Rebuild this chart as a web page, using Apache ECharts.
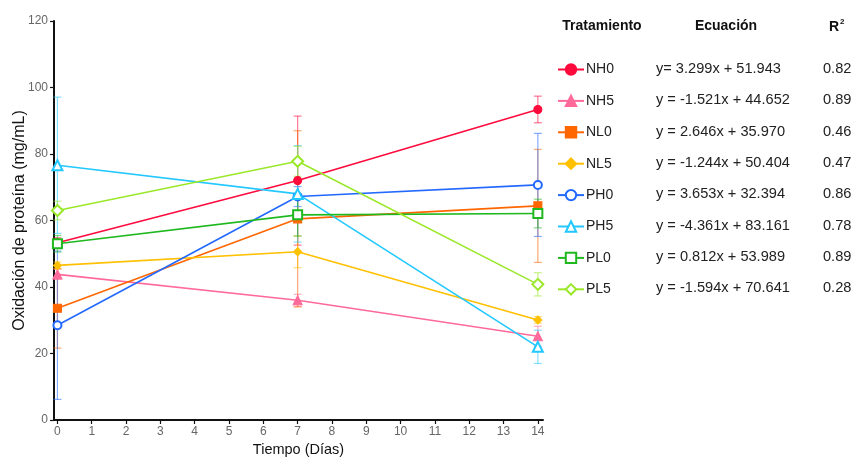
<!DOCTYPE html>
<html>
<head>
<meta charset="utf-8">
<script src="https://cdn.jsdelivr.net/npm/echarts@6/dist/echarts.min.js"></script>
<style>
  html, body { margin: 0; padding: 0; background: #fff; }
  #chart { width: 854px; height: 457px; }
</style>
</head>
<body>
<div id="chart"></div>
<script>
// Sampling days
const days = [0, 7, 14];
const xTicks = [0, 1, 2, 3, 4, 5, 6, 7, 8, 9, 10, 11, 12, 13, 14];

// Treatment names, means and standard deviations per day
const treatments = ['NH0', 'NH5', 'NL0', 'NL5', 'PH0', 'PH5', 'PL0', 'PL5'];
const NH0 = [53.3, 72.0, 93.4];
const NH5 = [43.8, 36.0, 25.2];
const NL0 = [33.6, 60.5, 64.4];
const NL5 = [46.5, 50.6, 30.1];
const PH0 = [28.5, 67.2, 70.7];
const PH5 = [76.6, 68.0, 22.0];
const PL0 = [53.0, 61.7, 62.1];
const PL5 = [63.0, 77.8, 40.8];

const NH0_sd = [1.5, 19.4, 4.0];
const NH5_sd = [1.5, 1.8, 3.0];
const NL0_sd = [12.0, 26.5, 17.0];
const NL5_sd = [1.0, 4.8, 1.0];
const PH0_sd = [22.3, 3.0, 15.5];
const PH5_sd = [20.5, 14.5, 5.0];
const PL0_sd = [2.5, 6.4, 4.3];
const PL5_sd = [2.8, 4.5, 3.5];

// Regression equations and R² per treatment
const equations = [
  'y= 3.299x + 51.943',
  'y = -1.521x + 44.652',
  'y = 2.646x + 35.970',
  'y = -1.244x + 50.404',
  'y = 3.653x + 32.394',
  'y = -4.361x + 83.161',
  'y = 0.812x + 53.989',
  'y = -1.594x + 70.641'
];
const r2 = ['0.82', '0.89', '0.46', '0.47', '0.86', '0.78', '0.89', '0.28'];

const means = [NH0, NH5, NL0, NL5, PH0, PH5, PL0, PL5];
const sds = [NH0_sd, NH5_sd, NL0_sd, NL5_sd, PH0_sd, PH5_sd, PL0_sd, PL5_sd];

const colors = ['#ff0a3c', '#ff6a9a', '#ff6600', '#ffc000', '#2469ff', '#22c8ff', '#1fb81f', '#9be82a'];
const symbols = ['circle', 'triangle', 'rect', 'diamond', 'emptyCircle', 'emptyTriangle', 'emptyRect', 'emptyDiamond'];
const symbolSizes = [8, 9, 8, 8, 8, 10, 9, 11];

const FONT = '"Liberation Sans", Arial, sans-serif';

const series = [];
// Error bars (drawn first so lines sit on top)
treatments.forEach((name, i) => {
  const data = days.map((d, k) => [d, means[i][k] - sds[i][k], means[i][k] + sds[i][k]]);
  series.push({
    type: 'custom',
    name: name + '_err',
    z: 1,
    silent: true,
    data: data,
    renderItem: function (params, api) {
      const x = api.value(0);
      const lo = api.coord([x, api.value(1)]);
      const hi = api.coord([x, api.value(2)]);
      const hw = 4;
      const style = { stroke: colors[i], lineWidth: 1.2, opacity: 0.55 };
      return {
        type: 'group',
        children: [
          { type: 'line', shape: { x1: lo[0], y1: lo[1], x2: hi[0], y2: hi[1] }, style: style },
          { type: 'line', shape: { x1: lo[0] - hw, y1: lo[1], x2: lo[0] + hw, y2: lo[1] }, style: style },
          { type: 'line', shape: { x1: hi[0] - hw, y1: hi[1], x2: hi[0] + hw, y2: hi[1] }, style: style }
        ]
      };
    },
    encode: { x: 0, y: [1, 2] }
  });
});
// Mean lines with markers
treatments.forEach((name, i) => {
  series.push({
    type: 'line',
    name: name,
    z: 3,
    data: days.map((d, k) => [d, means[i][k]]),
    symbol: symbols[i],
    symbolSize: symbolSizes[i],
    showAllSymbol: true,
    lineStyle: { color: colors[i], width: 1.6 },
    itemStyle: { color: colors[i], borderColor: colors[i], borderWidth: 1.1 },
    emphasis: { disabled: true }
  });
});

// Side table: headers, equations and R² values
const headerY = 26;
const rowY0 = 69, rowStep = 31.3;
const graphics = [
  { type: 'text', x: 602, y: headerY, style: { text: 'Tratamiento', font: 'bold 14px ' + FONT, fill: '#111', align: 'center', verticalAlign: 'middle' } },
  { type: 'text', x: 726, y: headerY, style: { text: 'Ecuación', font: 'bold 14px ' + FONT, fill: '#111', align: 'center', verticalAlign: 'middle' } },
  {
    type: 'text', x: 829, y: headerY - 10,
    style: {
      text: '{b|R}{s|2}',
      rich: {
        b: { font: 'bold 14px ' + FONT, fill: '#111', padding: [4, 0, 0, 0] },
        s: { font: 'bold 8px ' + FONT, fill: '#111', padding: [0, 0, 6, 1] }
      }
    }
  }
];
equations.forEach((eq, i) => {
  graphics.push({
    type: 'text', x: 656, y: rowY0 + i * rowStep,
    style: { text: eq, font: '14.6px ' + FONT, fill: '#222', verticalAlign: 'middle' }
  });
  graphics.push({
    type: 'text', x: 823, y: rowY0 + i * rowStep,
    style: { text: r2[i], font: '14.6px ' + FONT, fill: '#222', verticalAlign: 'middle' }
  });
});

const chart = echarts.init(document.getElementById('chart'), null, { renderer: 'canvas' });
chart.setOption({
  animation: false,
  backgroundColor: '#fff',
  textStyle: { fontFamily: FONT },
  grid: { left: 54, top: 21, right: 311, bottom: 37, containLabel: false, outerBoundsMode: 'none' },
  legend: {
    data: treatments,
    orient: 'vertical',
    left: 557,
    top: 62.5,
    padding: 0,
    itemWidth: 26,
    itemHeight: 13,
    itemGap: 17.4,
    selectedMode: false,
    textStyle: { fontSize: 14, color: '#222', fontFamily: FONT, padding: [0, 0, 0, -3] }
  },
  xAxis: {
    type: 'value',
    min: -0.1,
    max: 14.15,
    name: 'Tiempo (Días)',
    nameLocation: 'middle',
    nameGap: 22,
    nameTextStyle: { fontSize: 14.5, color: '#111', fontFamily: FONT },
    axisLine: { show: true, onZero: false, lineStyle: { color: '#111', width: 2 } },
    axisTick: { show: true, customValues: xTicks, length: 4, lineStyle: { color: '#111', width: 1.2 } },
    axisLabel: { customValues: xTicks, color: '#666', fontSize: 12, margin: 6, fontFamily: FONT },
    splitLine: { show: false }
  },
  yAxis: {
    type: 'value',
    min: 0,
    max: 120,
    interval: 20,
    name: 'Oxidación de proteína (mg/mL)',
    nameLocation: 'middle',
    nameGap: 26,
    nameMoveOverlap: false,
    nameTextStyle: { fontSize: 16, color: '#111', fontFamily: FONT },
    axisLine: { show: true, onZero: false, lineStyle: { color: '#111', width: 2 } },
    axisTick: { show: true, length: 4, lineStyle: { color: '#111', width: 1.2 } },
    axisLabel: { color: '#666', fontSize: 12, margin: 6, fontFamily: FONT },
    splitLine: { show: false }
  },
  graphic: graphics,
  series: series
});
</script>
</body>
</html>
